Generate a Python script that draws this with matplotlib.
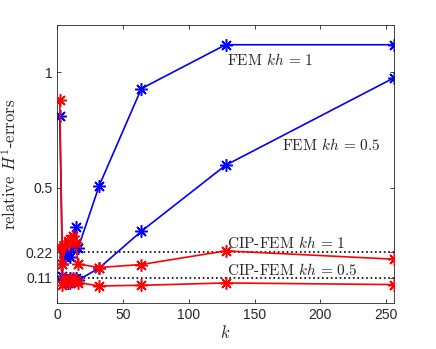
import matplotlib
matplotlib.use("Agg")
import matplotlib.pyplot as plt

plt.rcParams['mathtext.fontset'] = 'cm'
plt.rcParams['axes.unicode_minus'] = False

k = [2, 4, 6, 8, 10, 12, 14, 16, 32, 64, 128, 256]
fem_kh1 = [0.81, 0.17, 0.20, 0.22, 0.20, 0.25, 0.33, 0.24, 0.51, 0.93, 1.12, 1.12]
fem_kh05 = [0.245, 0.12, 0.10, 0.09, 0.11, 0.10, 0.11, 0.10, 0.153, 0.312, 0.598, 0.977]
cip_kh1 = [0.88, 0.17, 0.25, 0.27, 0.28, 0.29, 0.26, 0.17, 0.155, 0.168, 0.227, 0.191]
cip_kh05 = [0.245, 0.08, 0.11, 0.10, 0.09, 0.11, 0.10, 0.09, 0.075, 0.078, 0.088, 0.081]
ref_levels = [0.22, 0.11]
xticks = [0, 50, 100, 150, 200, 250]
yticks = [0.11, 0.22, 0.5, 1]
ytick_labels = ['0.11', '0.22', '0.5', '1']
labels = [("FEM $kh\\,=\\,1$", 129, 1.056), ("FEM $kh\\,=\\,0.5$", 171, 0.685),
          ("CIP-FEM $kh\\,=\\,1$", 129, 0.263), ("CIP-FEM $kh\\,=\\,0.5$", 129, 0.146)]

fig = plt.figure(figsize=(4.36, 3.49), dpi=100)
ax = fig.add_axes([0.131, 0.131, 0.773, 0.797])

for lv in ref_levels:
    ax.plot([0, 256], [lv, lv], linestyle=':', color='black', linewidth=1.2, zorder=1)

mk = dict(marker=(8, 2, 0), markersize=9, markeredgewidth=1.1, linewidth=1.2)
ax.plot(k, fem_kh1, color='#0000ff', **mk, zorder=2)
ax.plot(k, fem_kh05, color='#0000ff', **mk, zorder=2)
ax.plot(k, cip_kh1, color='#ff0000', **mk, zorder=3)
ax.plot(k, cip_kh05, color='#ff0000', **mk, zorder=3)

for txt, x, y in labels:
    ax.text(x, y, txt, fontsize=11, family='cmr10', va='center', ha='left', color='#262626')

ax.set_xlim(0, 256)
ax.set_ylim(0, 1.205)
ax.set_xticks(xticks)
ax.set_yticks(yticks)
ax.set_yticklabels(ytick_labels)
ax.tick_params(direction='in', top=True, right=True, labelsize=10, colors='#262626',
               length=3, width=0.6)
for lbl in ax.get_xticklabels() + ax.get_yticklabels():
    lbl.set_family('Liberation Sans')
for s in ax.spines.values():
    s.set_color('#262626')
    s.set_linewidth(0.6)
ax.set_xlabel('$k$', fontsize=12, color='#262626', labelpad=1)
ax.set_ylabel('relative $H^1$-errors', fontsize=12, family='cmr10', color='#262626', labelpad=4)

fig.savefig('out.png', dpi=100)
